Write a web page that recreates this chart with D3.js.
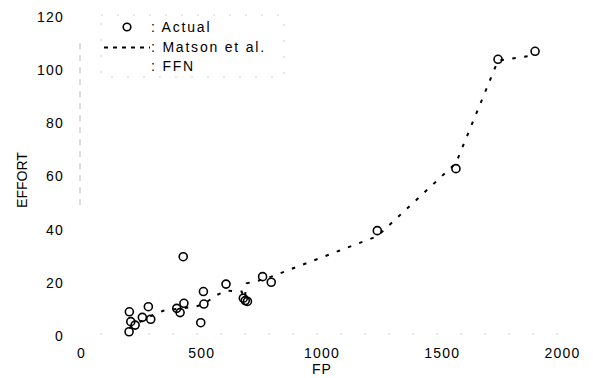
<!DOCTYPE html>
<html>
<head>
<meta charset="utf-8">
<script src="https://cdn.jsdelivr.net/npm/d3@7"></script>
<style>
  body { margin: 0; background: #fff; }
  svg { display: block; }
  text { font-family: "Liberation Sans", Arial, sans-serif; fill: #000; }
</style>
</head>
<body>
<svg id="chart" width="593" height="378"></svg>
<script>
'use strict';

// actual projects (FP, EFFORT)
var fpActual     = [200, 201, 207, 225, 255, 280, 290, 398, 412, 425, 428, 498, 509, 511, 603, 675, 683, 692, 755, 791, 1232, 1559, 1734, 1888];
var effortActual = [1.6, 9.1, 5.4, 4.1, 7.0, 11.0, 6.3, 10.4, 8.8, 29.8, 12.3, 5.0, 16.7, 12.0, 19.5, 14.2, 13.3, 13.0, 22.3, 20.2, 39.6, 62.9, 104, 107];

// Matson et al. estimates
var fpMatson     = [200, 290, 342, 428, 474, 511, 564, 606, 668, 680, 689, 755, 791, 1232, 1559, 1734, 1888];
var effortMatson = [3.0, 7.5, 9.5, 10.5, 11.0, 12.0, 15.4, 17.0, 16.7, 14.0, 19.8, 21.2, 22.3, 37.5, 65.0, 103.5, 105.5];

var xTicks = [0, 500, 1000, 1500, 2000];
var yTicks = [0, 20, 40, 60, 80, 100, 120];

var svg = d3.select('#chart');

var x = d3.scaleLinear().domain([0, 2000]).range([81, 562]);
var y = d3.scaleLinear().domain([0, 120]).range([336, 16.7]);

// faint scanned axis lines
svg.append('line')
    .attr('x1', x(0) - 1).attr('x2', x(0) - 1)
    .attr('y1', y(110)).attr('y2', y(48))
    .attr('stroke', '#bbb').attr('stroke-width', 1)
    .attr('stroke-dasharray', '6,6');
svg.append('line')
    .attr('x1', x(80)).attr('x2', x(2000))
    .attr('y1', y(0) - 2).attr('y2', y(0) - 2)
    .attr('stroke', '#ccc').attr('stroke-width', 1)
    .attr('stroke-dasharray', '2,22');

//axes, only the labels are visible
var xAxis = svg.append('g')
    .attr('transform', 'translate(0,' + y(0) + ')')
    .call(d3.axisBottom(x).tickValues(xTicks).tickFormat(d3.format('d')).tickSize(0).tickPadding(12));
var yAxis = svg.append('g')
    .attr('transform', 'translate(' + x(0) + ',0)')
    .call(d3.axisLeft(y).tickValues(yTicks).tickFormat(d3.format('d')).tickSize(0).tickPadding(17));

[xAxis, yAxis].forEach(function (g) {
    g.select('.domain').remove();
    g.selectAll('text')
        .style('font-size', '14px')
        .style('letter-spacing', '1.2px')
        .style('font-family', '"Liberation Sans", Arial, sans-serif')
        .attr('fill', '#000');
});

svg.append('text')
    .attr('x', 322).attr('y', 374)
    .attr('text-anchor', 'middle')
    .style('font-size', '14px')
    .style('letter-spacing', '1px')
    .text('FP');

svg.append('text')
    .attr('transform', 'translate(27,180) rotate(-90)')
    .attr('text-anchor', 'middle')
    .style('font-size', '14px')
    .text('EFFORT');

// Matson et al. dashed line
var matson = fpMatson.map(function (d, i) { return [d, effortMatson[i]]; });
svg.append('path')
    .datum(matson)
    .attr('fill', 'none')
    .attr('stroke', '#000')
    .attr('stroke-width', 2)
    .attr('stroke-dasharray', '3.5,8.5')
    .attr('d', d3.line()
        .x(function (d) { return x(d[0]); })
        .y(function (d) { return y(d[1]); }));

// actual points
var actual = fpActual.map(function (d, i) { return [d, effortActual[i]]; });
svg.append('g').selectAll('circle')
    .data(actual)
  .enter().append('circle')
    .attr('cx', function (d) { return x(d[0]); })
    .attr('cy', function (d) { return y(d[1]); })
    .attr('r', 4)
    .attr('fill', 'none')
    .attr('stroke', '#000')
    .attr('stroke-width', 1.6);

// legend
var legend = svg.append('g');
legend.append('rect')
    .attr('x', 101).attr('y', 15).attr('width', 183).attr('height', 62)
    .attr('fill', 'none')
    .attr('stroke', '#ccc').attr('stroke-width', 1)
    .attr('stroke-dasharray', '2,14');
legend.append('circle')
    .attr('cx', 127).attr('cy', 27).attr('r', 3.8)
    .attr('fill', 'none').attr('stroke', '#000').attr('stroke-width', 1.6);
legend.append('line')
    .attr('x1', 104).attr('x2', 150).attr('y1', 47.5).attr('y2', 47.5)
    .attr('stroke', '#000').attr('stroke-width', 2)
    .attr('stroke-dasharray', '4,5');

var legendLabels = [': Actual', ': Matson et al.', ': FFN'];
legend.selectAll('text')
    .data(legendLabels)
  .enter().append('text')
    .attr('x', 151)
    .attr('y', function (d, i) { return 32 + i * 19.5; })
    .style('font-size', '14px')
    .style('letter-spacing', '1.8px')
    .text(function (d) { return d; });
</script>
</body>
</html>
